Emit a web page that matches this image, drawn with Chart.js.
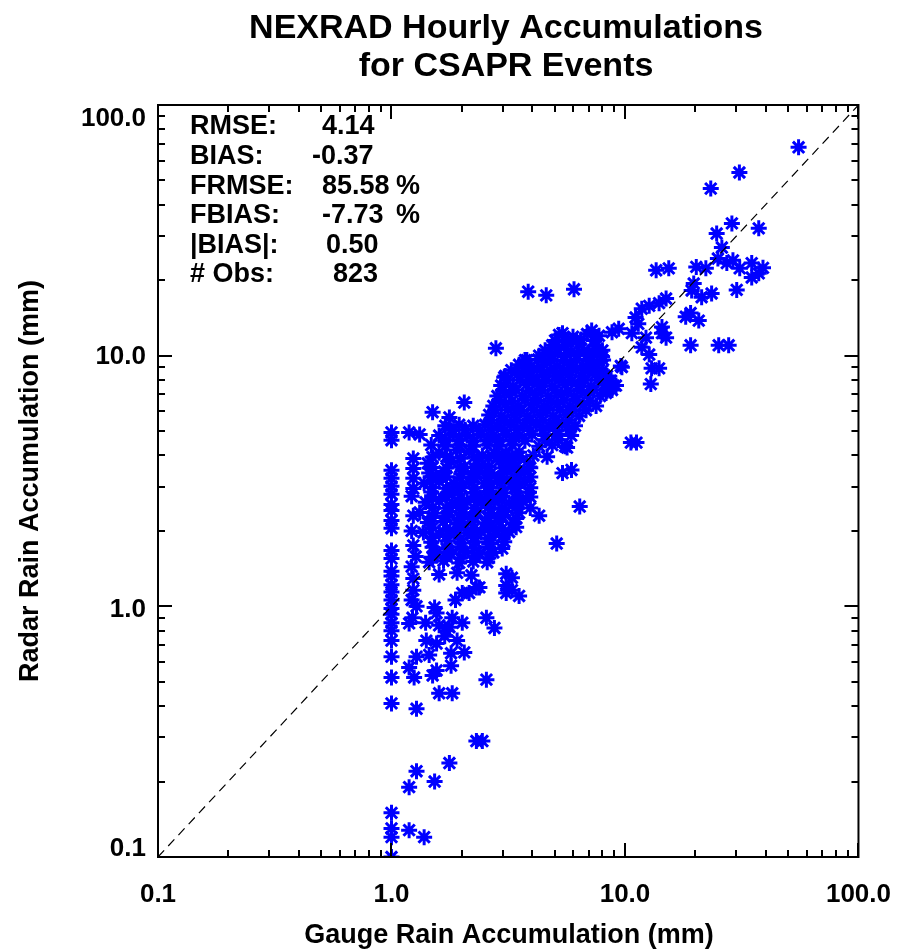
<!DOCTYPE html>
<html><head><meta charset="utf-8">
<script src="https://cdn.jsdelivr.net/npm/chart.js@4/dist/chart.umd.min.js"></script>
<style>html,body{margin:0;padding:0;background:#fff}#wrap{width:913px;height:951px;position:relative}</style>
</head><body><div id="wrap"><canvas id="c"></canvas></div>
<script>
// ---------- text ----------
const titleLines = ['NEXRAD Hourly Accumulations', 'for CSAPR Events'];
const xAxisTitle = 'Gauge Rain Accumulation (mm)';
const yAxisTitle = 'Radar Rain Accumulation (mm)';
const tickValues = [0.1, 1, 10, 100];
const tickLabels = ['0.1', '1.0', '10.0', '100.0'];
const statNames = ['RMSE:', 'BIAS:', 'FRMSE:', 'FBIAS:', '|BIAS|:', '# Obs:'];
const statValues = ['4.14', '-0.37', '85.58', '-7.73', '0.50', '823'];
const statUnits = ['', '', '%', '%', '', ''];

// ---------- 1:1 reference line ----------
const oneToOne = [[0.1, 0.1], [100, 100]];

// ---------- observations [gauge mm, radar mm] ----------
const gaugeOneColumn = [
 [1.0,4.94],[1.0,4.6],[1.0,3.49],[1.0,3.24],[1.0,3.01],[1.0,2.8],[1.0,2.55],[1.0,2.41],[1.0,2.2],[1.0,2.05],
 [1.0,1.67],[1.0,1.55],[1.0,1.38],[1.0,1.32],[1.0,1.22],[1.0,1.14],[1.0,1.06],[1.0,0.98],[1.0,0.93],[1.0,0.86],
 [1.0,0.8],[1.0,0.73],[1.0,0.63],[1.0,0.52],[1.0,0.41],[1.0,0.15],[1.0,0.13],[1.0,0.12],[1.0,0.1]
];
const secondColumn = [
 [1.19,4.94],[1.32,4.85],[1.24,3.89],[1.24,3.55],[1.24,3.24],[1.24,2.95],[1.22,2.75],[1.24,2.3],[1.22,2.0],
 [1.24,1.75],[1.27,1.58],[1.22,1.44],[1.24,1.29],[1.24,1.16],[1.22,1.06],[1.28,1.0],[1.19,0.855],[1.28,0.63],
 [1.19,0.57],[1.25,0.52],[1.28,0.39],[1.28,0.22],[1.19,0.19],[1.19,0.128],[1.38,0.12]
];
const lowScatter = [
 [1.41,0.73],[1.56,0.71],[1.45,0.64],[1.8,0.65],[2.05,0.655],[1.56,0.555],[1.8,0.58],[1.5,0.53],[2.55,0.51],
 [1.6,0.45],[1.82,0.45],[2.31,0.29],[2.45,0.29],[1.77,0.237],[1.53,0.2],[1.6,0.84],[1.77,0.825],[2.01,0.86],
 [2.55,0.9],[2.76,0.82],[1.53,0.99],[1.4,0.86],[1.69,0.76],[1.91,0.73],[1.56,0.94],[1.82,0.9],[1.72,0.8],[1.23,0.9]
];
const nearOne = [
 [1.88,1.06],[2.01,1.13],[2.15,1.13],[2.31,1.19],[2.38,1.19],[3.1,1.35],[3.1,1.21],[3.1,1.13],[3.28,1.16],
 [3.52,1.1],[3.28,1.3]
];
const mainCluster = [
 [1.6,4.1],[2.15,4.15],[2.76,4.08],[3.52,4.12],[1.9,4.2],[2.45,4.0],[3.1,4.05],
 [1.43,3.72],[1.8,3.78],[2.33,3.7],[2.89,3.8],[3.26,3.74],[3.81,3.77],[2.05,3.6],[2.6,3.62],
 [1.45,3.4],[1.68,3.45],[1.99,3.38],[2.38,3.44],[2.67,3.4],[3.13,3.46],[3.59,3.41],[1.55,3.3],[2.2,3.28],[2.9,3.25],
 [1.38,3.1],[1.6,3.15],[1.86,3.09],[2.15,3.14],[2.5,3.1],[2.84,3.16],[3.26,3.1],[3.73,3.13],[2.0,2.98],[2.65,2.97],[3.45,2.98],
 [1.48,2.86],[1.74,2.82],[1.95,2.88],[2.26,2.84],[2.62,2.87],[3.04,2.83],[3.45,2.86],[3.88,2.85],[2.4,2.72],[2.9,2.72],
 [1.4,2.6],[1.6,2.63],[1.82,2.58],[2.11,2.62],[2.42,2.59],[2.76,2.61],[3.19,2.58],[3.66,2.62],[1.95,2.48],[2.6,2.48],[3.4,2.48],
 [1.32,2.37],[1.53,2.35],[1.77,2.39],[2.03,2.36],[2.33,2.38],[2.67,2.35],[3.07,2.39],[3.52,2.36],[2.2,2.26],[2.85,2.27],
 [1.43,2.16],[1.67,2.18],[1.91,2.14],[2.2,2.17],[2.52,2.15],[2.89,2.18],[3.32,2.15],[2.05,2.06],[2.65,2.07],
 [1.37,1.97],[1.6,1.95],[1.86,1.99],[2.11,1.96],[2.42,1.98],[2.78,1.95],[3.19,1.98],[2.25,1.88],
 [1.48,1.8],[1.74,1.82],[1.99,1.79],[2.28,1.81],[2.62,1.78],[3.04,1.81],
 [1.57,1.64],[1.8,1.62],[2.07,1.65],[2.38,1.63],[2.73,1.64],
 [1.45,1.5],[1.67,1.52],[1.95,1.49],[2.24,1.51],[2.57,1.5],
 [1.6,1.34],[1.91,1.36],[2.2,1.33]
];
const mainClusterFill = [
 [1.5,3.93],[1.72,3.95],[1.97,3.9],[2.26,3.94],[2.6,3.91],[2.98,3.95],[3.42,3.92],
 [1.5,3.58],[1.72,3.56],[1.97,3.6],[2.26,3.57],[2.6,3.59],[2.98,3.56],[3.42,3.6],[3.93,3.57],
 [1.5,3.27],[1.72,3.29],[1.97,3.25],[2.26,3.28],[2.6,3.26],[2.98,3.29],[3.42,3.25],[3.93,3.28],
 [1.5,2.98],[1.72,2.96],[1.97,3.0],[2.26,2.97],[2.6,2.99],[2.98,2.96],[3.42,3.0],[3.93,2.97],
 [1.5,2.72],[1.72,2.74],[1.97,2.7],[2.26,2.73],[2.6,2.71],[2.98,2.74],[3.42,2.7],[3.93,2.73],
 [1.5,2.48],[1.72,2.46],[1.97,2.5],[2.26,2.47],[2.6,2.49],[2.98,2.46],[3.42,2.5],[3.93,2.47],
 [1.5,2.26],[1.72,2.28],[1.97,2.24],[2.26,2.27],[2.6,2.25],[2.98,2.28],[3.42,2.24],
 [1.5,2.06],[1.72,2.04],[1.97,2.08],[2.26,2.05],[2.6,2.07],[2.98,2.04],[3.42,2.07],
 [1.5,1.88],[1.72,1.9],[1.97,1.86],[2.26,1.89],[2.6,1.87],[2.98,1.9],
 [1.5,1.72],[1.72,1.7],[1.97,1.73],[2.26,1.71],[2.6,1.73],[2.98,1.7],
 [1.5,1.57],[1.72,1.58],[1.97,1.56],[2.26,1.58],[2.6,1.56]
];
const upperBand = [
 [5.22,12.1],[5.99,11.9],[6.88,12.2],[7.74,12.0],
 [4.88,11.0],[5.54,10.9],[6.36,11.1],[7.44,10.9],
 [4.29,10.0],[4.83,10.1],[5.49,9.9],[6.23,10.0],[7.02,10.1],[7.98,9.9],
 [3.52,9.2],[3.97,9.1],[4.51,9.2],[5.12,9.1],[5.82,9.2],[6.61,9.1],[7.59,9.2],
 [3.07,8.3],[3.46,8.4],[3.89,8.3],[4.42,8.4],[5.02,8.3],[5.71,8.4],[6.49,8.3],[7.44,8.4],[8.38,8.3],
 [2.95,7.6],[3.32,7.55],[3.78,7.65],[4.29,7.6],[4.88,7.55],[5.54,7.65],[6.3,7.6],[7.16,7.55],[8.14,7.65],[9.15,7.6],
 [2.84,6.9],[3.19,7.0],[3.63,6.9],[4.13,6.95],[4.69,6.9],[5.33,7.0],[6.05,6.9],[6.88,6.95],[7.82,6.9],
 [2.73,6.3],[3.07,6.4],[3.49,6.3],[3.97,6.35],[4.51,6.3],[5.12,6.4],[5.82,6.3],[6.61,6.35],[7.52,6.3],
 [2.62,5.8],[2.95,5.75],[3.35,5.8],[3.81,5.75],[4.33,5.8],[4.92,5.75],[5.6,5.8],[6.36,5.75],
 [1.7,5.25],[1.95,5.3],[2.24,5.25],[2.52,5.3],[2.84,5.25],[3.23,5.3],[3.67,5.25],[4.17,5.3],[4.73,5.25],[5.38,5.3],[6.11,5.25],
 [1.6,4.8],[1.84,4.85],[2.11,4.8],[2.42,4.85],[2.73,4.8],[3.1,4.85],[3.52,4.8],[4.0,4.85],[4.55,4.8],[5.17,4.85],[5.88,4.8],
 [1.48,4.4],[1.7,4.35],[1.95,4.4],[2.24,4.35],[2.57,4.4],[2.89,4.35],[3.29,4.4],[4.29,4.35],[4.88,4.4],[5.54,4.35],
 [3.04,3.97],[3.52,3.95],[4.05,4.0],[4.64,3.95],
 [3.39,3.58],[3.89,3.6]
];
const upperBandFill = [
 [5.02,11.5],[5.71,11.4],[6.49,11.6],[7.38,11.5],
 [4.55,10.5],[5.17,10.6],[5.88,10.4],[6.68,10.5],[7.59,10.6],
 [3.73,9.6],[4.25,9.65],[4.83,9.55],[5.49,9.6],[6.23,9.65],[7.09,9.55],[8.06,9.6],
 [3.26,8.75],[3.7,8.7],[4.2,8.8],[4.78,8.75],[5.43,8.7],[6.17,8.8],[7.02,8.75],[7.98,8.7],
 [3.13,7.97],[3.55,8.0],[4.05,7.95],[4.6,7.98],[5.22,8.0],[5.94,7.95],[6.75,7.97],[7.67,8.0],[8.72,7.95],
 [3.01,7.27],[3.42,7.3],[3.89,7.25],[4.42,7.28],[5.02,7.3],[5.71,7.25],[6.49,7.27],[7.38,7.3],[8.38,7.25],
 [2.89,6.63],[3.29,6.6],[3.73,6.65],[4.25,6.62],[4.83,6.6],[5.49,6.65],[6.23,6.63],[7.09,6.6],
 [2.78,6.06],[3.16,6.08],[3.59,6.04],[4.08,6.07],[4.64,6.05],[5.27,6.08],[5.99,6.04],[6.81,6.06],
 [2.67,5.52],[3.04,5.5],[3.45,5.54],[3.93,5.51],[4.46,5.53],[5.07,5.5],[5.76,5.52],
 [1.8,5.04],[2.07,5.06],[2.38,5.02],[2.67,5.05],[3.04,5.03],[3.45,5.06],[3.93,5.02],[4.46,5.05],[5.07,5.03],[5.76,5.04],
 [1.7,4.6],[1.95,4.62],[2.24,4.58],[2.57,4.61],[2.89,4.59],[3.29,4.62],[3.73,4.58],[4.55,4.6],[5.17,4.61]
];
const scattered = [
 [2.8,10.7],[3.8,9.6],[3.04,8.2],[2.05,6.5],[1.5,5.95],[1.77,5.67],[3.85,18.0],[4.6,17.4],[6.05,18.4],[5.4,12.3],
 [6.4,2.5],[5.1,1.78],[5.65,4.3],[5.9,3.5],[5.4,3.4],[4.29,2.3],[10.6,4.5],[11.2,4.5],
 [7.5,11.0],[8.0,10.5],[7.2,9.6],[8.5,7.4],[8.3,7.1],[8.8,7.3],[9.6,9.1],[9.7,9.0],[9.4,12.8],[8.8,12.4],[7.2,12.6],
 [10.7,12.3],[11.4,13.4],[11.8,15.4],[12.7,15.8],[14.0,16.2],[15.0,16.9],[11.1,14.2],[12.3,11.8],[14.4,13.0],
 [15.0,11.8],[14.4,12.3],[11.8,10.8],[12.7,10.1],[13.0,8.9],[14.0,8.9],[12.9,7.7],[18.2,14.3],[19.1,14.8],
 [20.7,13.8],[19.3,18.2],[21.3,17.1],[23.5,17.7],[19.7,19.4],[30.1,18.3],[19.1,11.0],[25.2,11.0],[27.8,11.0],
 [13.6,21.9],[15.4,22.3],[20.2,22.6],[22.2,22.3],[24.7,30.7],[28.7,33.7],[37.4,32.2],[26.0,27.0],[27.3,23.4],
 [25.0,24.4],[29.0,24.0],[31.0,22.3],[34.9,23.4],[37.4,21.3],[34.9,20.5],[39.0,22.4],[55.4,67.8],[30.9,53.8],[23.3,46.4]
];

const observations = [].concat(gaugeOneColumn, secondColumn, lowScatter, nearOne, mainCluster, mainClusterFill,
  upperBand, upperBandFill, scattered).map(p => ({x: p[0], y: p[1]}));

const FONT = '"Liberation Sans", Arial, Helvetica, sans-serif';
const AREA = {top: 105, right: 52};

const decor = {
  id: 'decor',
  afterDraw(chart) {
    const ctx = chart.ctx, a = chart.chartArea;
    const xs = chart.scales.x, ys = chart.scales.y;
    ctx.save();
    ctx.strokeStyle = '#000'; ctx.fillStyle = '#000';
    ctx.lineWidth = 2;
    ctx.strokeRect(a.left, a.top, a.right - a.left, a.bottom - a.top);
    const marks = [];
    for (let i = 0; i < tickValues.length; i++) {
      marks.push([tickValues[i], 14]);
      if (i < tickValues.length - 1) for (let m = 2; m <= 9; m++) marks.push([tickValues[i] * m, 7]);
    }
    ctx.beginPath();
    for (const [v, len] of marks) {
      const px = Math.round(xs.getPixelForValue(v));
      ctx.moveTo(px, a.bottom); ctx.lineTo(px, a.bottom - len);
      ctx.moveTo(px, a.top); ctx.lineTo(px, a.top + len);
      const py = Math.round(ys.getPixelForValue(v));
      ctx.moveTo(a.left, py); ctx.lineTo(a.left + len, py);
      ctx.moveTo(a.right, py); ctx.lineTo(a.right - len, py);
    }
    ctx.stroke();
    ctx.font = 'bold 26px ' + FONT;
    ctx.textAlign = 'right'; ctx.textBaseline = 'middle';
    const yOff = [-8, 3, 1, 14];
    tickValues.forEach((v, i) => ctx.fillText(tickLabels[i], a.left - 12, ys.getPixelForValue(v) + yOff[i]));
    ctx.textAlign = 'center';
    ctx.font = 'bold 34px ' + FONT;
    ctx.fillText(titleLines[0], 506, 29);
    ctx.fillText(titleLines[1], 506, 67);
    ctx.font = 'bold 27px ' + FONT;
    ctx.fillText(xAxisTitle, 509, 936);
    ctx.save();
    ctx.translate(31, 481); ctx.rotate(-Math.PI / 2);
    ctx.fillText(yAxisTitle, 0, 0);
    ctx.restore();
    ctx.font = 'bold 27px ' + FONT;
    ctx.textAlign = 'left';
    const valX = [322, 312, 322, 322, 326, 333];
    statNames.forEach((s, i) => {
      const y = 127 + 29.6 * i;
      ctx.fillText(s, 190, y);
      ctx.fillText(statValues[i], valX[i], y);
      if (statUnits[i]) ctx.fillText(statUnits[i], 396, y);
    });
    ctx.restore();
  }
};

new Chart(document.getElementById('c'), {
  type: 'scatter',
  data: {
    datasets: [
      {
        type: 'line',
        data: oneToOne.map(p => ({x: p[0], y: p[1]})),
        borderColor: '#000', borderWidth: 1.2, borderDash: [9, 6],
        pointRadius: 0, fill: false, order: 0
      },
      {
        data: observations,
        pointStyle: 'star', pointRadius: 8, pointBorderWidth: 3,
        borderColor: '#0000ff', backgroundColor: '#0000ff',
        order: 1, clip: 0
      }
    ]
  },
  options: {
    responsive: true, maintainAspectRatio: false, animation: false, events: [],
    layout: {padding: {top: AREA.top, right: AREA.right, left: 0, bottom: 0}},
    plugins: {legend: {display: false}, tooltip: {enabled: false}, title: {display: false}},
    scales: {
      x: {
        type: 'logarithmic', min: 0.1, max: 100, position: 'bottom',
        grid: {display: false, drawTicks: false, tickLength: 0},
        border: {display: false},
        afterBuildTicks: s => { s.ticks = tickValues.map(v => ({value: v})); },
        afterFit: s => { s.height = 94; },
        ticks: {
          autoSkip: false, maxRotation: 0, padding: 22, color: '#000',
          font: {family: FONT, size: 26, weight: 'bold'},
          callback: v => { const i = tickValues.indexOf(v); return i >= 0 ? tickLabels[i] : ''; }
        }
      },
      y: {
        type: 'logarithmic', min: 0.1, max: 100,
        grid: {display: false, drawTicks: false, tickLength: 0},
        border: {display: false},
        afterBuildTicks: s => { s.ticks = tickValues.map(v => ({value: v})); },
        afterFit: s => { s.width = 158; },
        ticks: {display: false}
      }
    }
  },
  plugins: [decor]
});
</script>
</body></html>
